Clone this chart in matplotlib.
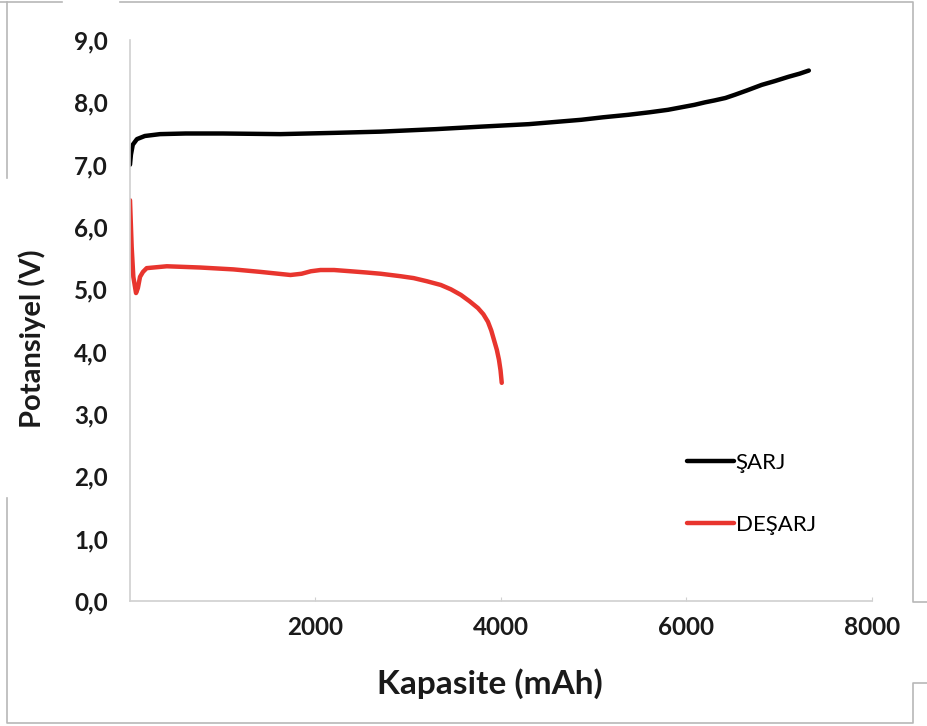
import matplotlib

matplotlib.use("agg")
import matplotlib.pyplot as plt
from matplotlib.ticker import FuncFormatter

# charge curve (SARJ)
chg_cap = [0, 10, 30, 75, 160, 324, 600, 1000, 1622, 2200, 2703, 3300, 3784, 4300,
           4865, 5100, 5373, 5600, 5800, 6086, 6200, 6300, 6420, 6519, 6650, 6811,
           6950, 7100, 7220, 7319]
chg_v = [7.00, 7.16, 7.32, 7.41, 7.46, 7.49, 7.50, 7.50, 7.49, 7.51, 7.53, 7.57, 7.61, 7.65,
         7.72, 7.76, 7.80, 7.84, 7.88, 7.96, 8.00, 8.03, 8.07, 8.12, 8.19, 8.28,
         8.34, 8.41, 8.46, 8.51]

# discharge curve (DESARJ)
dis_cap = [0, 18, 36, 65, 85, 108, 140, 180, 397, 757, 1114, 1405, 1600, 1730, 1850,
           1950, 2054, 2200, 2378, 2550, 2703, 2919, 3059, 3200, 3351, 3460, 3568,
           3660, 3751, 3810, 3859, 3895, 3924, 3955, 3978, 3995, 4008]
dis_v = [6.43, 5.68, 5.20, 4.94, 5.02, 5.20, 5.28, 5.34, 5.37, 5.35, 5.32, 5.28, 5.25, 5.23, 5.25,
         5.29, 5.31, 5.31, 5.29, 5.27, 5.25, 5.21, 5.18, 5.13, 5.07, 5.00, 4.91,
         4.81, 4.70, 4.60, 4.48, 4.34, 4.19, 4.03, 3.87, 3.70, 3.50]

x_ticks = [2000, 4000, 6000, 8000]
y_ticks = [0, 1, 2, 3, 4, 5, 6, 7, 8, 9]

FONT = ["Lato", "DejaVu Sans"]
plt.rcParams["font.family"] = FONT

W, H = 928, 726
fig = plt.figure(figsize=(W / 100, H / 100), dpi=100)
ax = fig.add_axes([130 / W, (H - 601) / H, (872 - 130) / W, (601 - 40) / H])

ax.plot(chg_cap, chg_v, c="black", linewidth=3.2, label="ŞARJ", solid_capstyle="round",
        solid_joinstyle="round")
ax.plot(dis_cap, dis_v, c="#e8352e", linewidth=3.2, label="DEŞARJ", solid_capstyle="round",
        solid_joinstyle="round")

ax.set_xlim(0, 8000)
ax.set_ylim(0, 9)
ax.set_xticks(x_ticks)
ax.set_yticks(y_ticks)
ax.yaxis.set_major_formatter(FuncFormatter(lambda v, p: "{:.1f}".format(v).replace(".", ",")))

ax.spines["top"].set_visible(False)
ax.spines["right"].set_visible(False)
ax.spines["left"].set_color("#d0d0d0")
ax.spines["bottom"].set_color("#d0d0d0")
ax.spines["left"].set_linewidth(1.2)
ax.spines["bottom"].set_linewidth(1.2)

ax.tick_params(axis="x", direction="in", length=3, color="#d0d0d0", pad=11)
ax.tick_params(axis="y", length=0, pad=16)
for lab in ax.get_xticklabels() + ax.get_yticklabels():
    lab.set_fontsize(17.5)
    lab.set_fontweight("bold")
    lab.set_color("#1a1a1a")

ax.set_xlabel("Kapasite (mAh)", fontsize=24, fontweight="bold", color="#1a1a1a")
ax.set_ylabel("Potansiyel (V)", fontsize=21, fontweight="bold", color="#1a1a1a")
ax.xaxis.set_label_coords((490 - 130) / 742, (601 - 668) / 561)
ax.yaxis.set_label_coords((46 - 130) / 742, (601 - 339) / 561)

ax.legend(loc="upper left", bbox_to_anchor=((678 - 130) / 742, (601 - 444) / 561),
          frameon=False, fontsize=16, handlelength=2.1, handletextpad=0.1,
          labelspacing=1.9, borderaxespad=0)

# screenshot frame around the chart
frame = fig.add_axes([0, 0, 1, 1], zorder=-1)
frame.set_xlim(0, W)
frame.set_ylim(H, 0)
frame.axis("off")
fc = "#b8b8b8"
frame.plot([0, 62], [2, 2], c=fc, lw=1.2)
frame.plot([120, 913, 913, 928], [2, 2, 602, 602], c=fc, lw=1.2)
frame.plot([7, 7], [2, 178], c=fc, lw=1.2)
frame.plot([7, 7, 913, 913, 928], [498, 723, 723, 683, 683], c=fc, lw=1.2)

plt.savefig("out.png", dpi=100)
plt.close()
